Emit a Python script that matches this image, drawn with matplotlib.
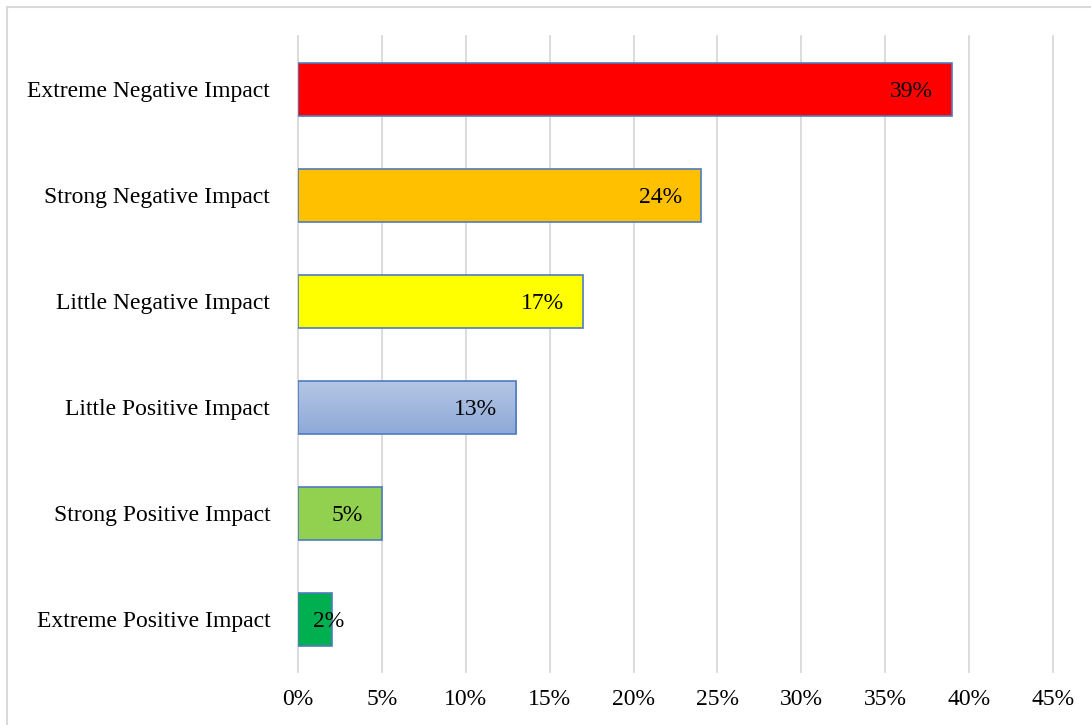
import matplotlib
matplotlib.use("Agg")
import matplotlib.pyplot as plt
import numpy as np
from matplotlib.patches import Rectangle
from matplotlib.colors import LinearSegmentedColormap
import matplotlib.transforms as mtransforms

categories = [
    "Extreme Negative Impact",
    "Strong Negative Impact",
    "Little Negative Impact",
    "Little Positive Impact",
    "Strong Positive Impact",
    "Extreme Positive Impact",
]
values = [39, 24, 17, 13, 5, 2]
bar_colors = ["#FF0000", "#FFC000", "#FFFF00", "#A6BBDF", "#92D050", "#00B050"]
gradient_bar = "Little Positive Impact"
gradient_colors = ["#B4C6E4", "#8EA9D8"]
xticks = list(range(0, 50, 5))

plt.rcParams["font.family"] = ["Liberation Serif", "DejaVu Serif"]
FS = 17

fig = plt.figure(figsize=(10.91, 7.25), dpi=100)
ax = fig.add_axes([0.2731, 0.0731, 0.6921, 0.8766])

# light frame around the whole chart area
fig.patches.append(Rectangle((7 / 1091, -0.05), 1.2, 1 - 7 / 725 + 0.05,
                             transform=fig.transFigure, fill=False,
                             edgecolor="#D9D9D9", linewidth=1.5))

ypos = np.arange(len(categories))
bars = ax.barh(ypos, values, height=0.5, color=bar_colors,
               edgecolor="#4F7BC0", linewidth=1.2, zorder=3)

# vertical gradient fill for one bar
for cat, b in zip(categories, bars):
    if cat == gradient_bar:
        cmap = LinearSegmentedColormap.from_list("g", gradient_colors)
        grad = np.linspace(0, 1, 256).reshape(-1, 1)
        x0, y0 = b.get_x(), b.get_y()
        w, h = b.get_width(), b.get_height()
        im = ax.imshow(grad, cmap=cmap, aspect="auto",
                       extent=[x0, x0 + w, y0 + h, y0], origin="upper",
                       zorder=3.5)
        im.set_clip_path(b)
        b.set_facecolor("none")
        b.set_zorder(4)

ax.set_xlim(0, 45)
ax.set_ylim(len(categories) - 0.5, -0.5)
ax.set_xticks(xticks)
ax.set_xticklabels([f"{t}%" for t in xticks], fontsize=FS)
ax.set_yticks(ypos)
ax.set_yticklabels(categories, fontsize=FS)
ax.tick_params(axis="both", length=0)
ax.tick_params(axis="x", pad=12)
ax.tick_params(axis="y", pad=20)
for s in ax.spines.values():
    s.set_visible(False)
ax.grid(axis="x", color="#D9D9D9", linewidth=1.3, zorder=0)
ax.set_axisbelow(True)
for gl in ax.get_xgridlines():
    gl.set_clip_on(False)

# value labels inside bar ends
for v, y in zip(values, ypos):
    if v >= 4:
        off = mtransforms.offset_copy(ax.transData, fig=fig, x=-19, y=-2, units="dots")
        ax.text(v, y, f"{v}%", ha="right", va="center", fontsize=FS,
                transform=off, zorder=5)
    else:
        off = mtransforms.offset_copy(ax.transData, fig=fig, x=15, y=-2, units="dots")
        ax.text(0, y, f"{v}%", ha="left", va="center", fontsize=FS,
                transform=off, zorder=5)

fig.savefig("out.png", dpi=100)
